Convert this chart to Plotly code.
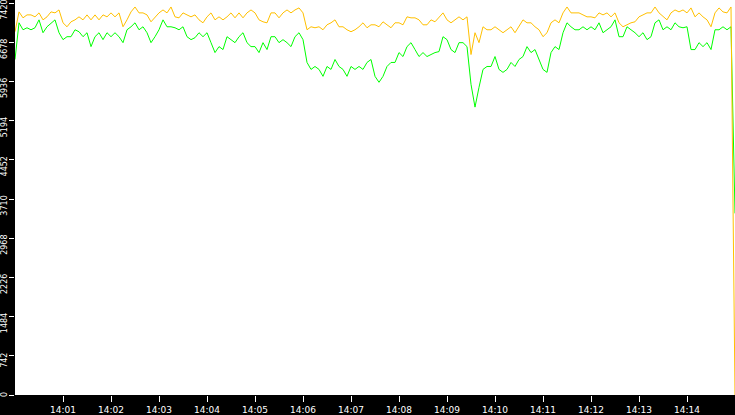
import plotly.graph_objects as go
import pandas as pd

# samples every 5 seconds, 14:00:00 .. 14:15:00
times = pd.date_range("2024-01-01 14:00:00", periods=181, freq="5s")

orange = [6881, 7257, 7144, 7200, 7200, 7163, 7238, 7106, 7163, 7257, 7238, 7294, 7050, 6975, 7069,
          7106, 7163, 7106, 7200, 7106, 7200, 7106, 7200, 7163, 7238, 7163, 7238, 6975, 7106, 7257,
          7350, 7238, 7238, 7200, 7069, 7163, 7238, 7294, 7238, 7350, 7163, 7144, 7238, 7200, 7163,
          7200, 7106, 7050, 7163, 7238, 7106, 7163, 7106, 7163, 7238, 7144, 7238, 7144, 7238, 7294,
          7238, 7106, 7069, 7050, 7238, 7238, 7144, 7238, 7294, 7238, 7294, 7332, 7238, 6918, 6975,
          6956, 6975, 6918, 7012, 7050, 7106, 6975, 6975, 6918, 6881, 6918, 6975, 7050, 6956, 7012,
          7012, 6975, 7069, 7012, 6956, 7050, 7050, 7012, 7163, 7144, 7144, 7106, 7012, 7012, 7106,
          7069, 7144, 7238, 7106, 7050, 7106, 7163, 7106, 7163, 6449, 6862, 6674, 6975, 6918, 6918,
          6975, 6918, 6862, 6918, 6975, 6862, 6975, 7106, 7050, 7050, 6975, 6918, 6787, 6862, 7050,
          7106, 7050, 7238, 7350, 7238, 7238, 7238, 7200, 7163, 7163, 7144, 7238, 7200, 7238, 7163,
          7238, 7050, 6975, 7012, 7050, 7069, 7163, 7200, 7238, 7238, 7350, 7238, 7163, 7106, 7238,
          7294, 7257, 7294, 7238, 7332, 7163, 7238, 7163, 7106, 6975, 7238, 7332, 7257, 7238, 7350,
          0]

green = [6355, 7050, 6918, 6956, 6918, 6956, 7106, 6862, 6975, 7050, 7106, 6862, 6731, 6787, 6787,
         6918, 6881, 6787, 6862, 6599, 6787, 6862, 6731, 6862, 6787, 6862, 6787, 6674, 6918, 6975,
         7050, 6918, 6975, 6862, 6674, 6787, 6918, 7106, 6975, 6975, 6956, 6918, 6975, 6787, 6731,
         6768, 6862, 6787, 6862, 6674, 6486, 6599, 6543, 6787, 6731, 6674, 6787, 6862, 6674, 6599,
         6599, 6486, 6674, 6543, 6787, 6787, 6674, 6731, 6674, 6599, 6787, 6862, 6731, 6299, 6167,
         6223, 6167, 6036, 6223, 6167, 6355, 6223, 6167, 6036, 6223, 6167, 6223, 6167, 6299, 6355,
         6036, 5923, 6036, 6223, 6299, 6299, 6486, 6411, 6599, 6674, 6543, 6411, 6486, 6411, 6449,
         6486, 6505, 6787, 6731, 6543, 6486, 6674, 6674, 6599, 5885, 5453, 5829, 6167, 6223, 6223,
         6411, 6167, 6111, 6167, 6299, 6223, 6355, 6411, 6599, 6486, 6543, 6355, 6167, 6111, 6486,
         6599, 6543, 6862, 7050, 6975, 6918, 6918, 6975, 6918, 6975, 6918, 7050, 6862, 6918, 6975,
         7106, 6787, 6787, 6975, 6918, 6862, 6787, 6862, 6731, 6787, 7050, 7106, 6918, 6975, 6918,
         7050, 6975, 6956, 6975, 6543, 6543, 6674, 6599, 6674, 6543, 6918, 6918, 6975, 6918, 6975,
         3440]

y_ticks = [0, 742, 1484, 2226, 2968, 3710, 4452, 5194, 5936, 6678, 7420]
x_ticks = pd.date_range("2024-01-01 14:01:00", periods=14, freq="1min")

fig = go.Figure()
fig.add_trace(go.Scatter(x=times, y=green, mode="lines",
                         line=dict(color="#00ff00", width=1)))
fig.add_trace(go.Scatter(x=times, y=orange, mode="lines",
                         line=dict(color="#ffc000", width=1)))

# y labels read upwards and end just above their tick
for v in y_ticks:
    fig.add_annotation(x=0, xref="paper", y=v, yref="y", text=str(v),
                       showarrow=False, textangle=-90, xanchor="right", yanchor="top",
                       xshift=-5, yshift=4, borderpad=0,
                       font=dict(family="DejaVu Sans", size=8, color="white"))

fig.update_layout(width=735, height=415,
                  margin=dict(l=15, r=0, t=0, b=17),
                  paper_bgcolor="black", plot_bgcolor="white",
                  showlegend=False)
fig.update_xaxes(range=[times[0], times[-1]], tickvals=x_ticks, tickformat="%H:%M",
                 ticks="outside", ticklen=6, tickcolor="white", tickwidth=1,
                 showgrid=False, zeroline=False, showline=False,
                 tickfont=dict(family="DejaVu Sans", size=9, color="white"))
fig.update_yaxes(range=[0, 7482], tickvals=y_ticks, showticklabels=False,
                 ticks="outside", ticklen=5, tickcolor="white", tickwidth=1,
                 showgrid=False, zeroline=False, showline=False)

fig.write_html("out.html", config={"displayModeBar": False})

# drop the default page margin so the figure sits at 0,0
with open("out.html") as f:
    html = f.read()
html = html.replace("<body>", '<body style="margin:0">', 1)
with open("out.html", "w") as f:
    f.write(html)
